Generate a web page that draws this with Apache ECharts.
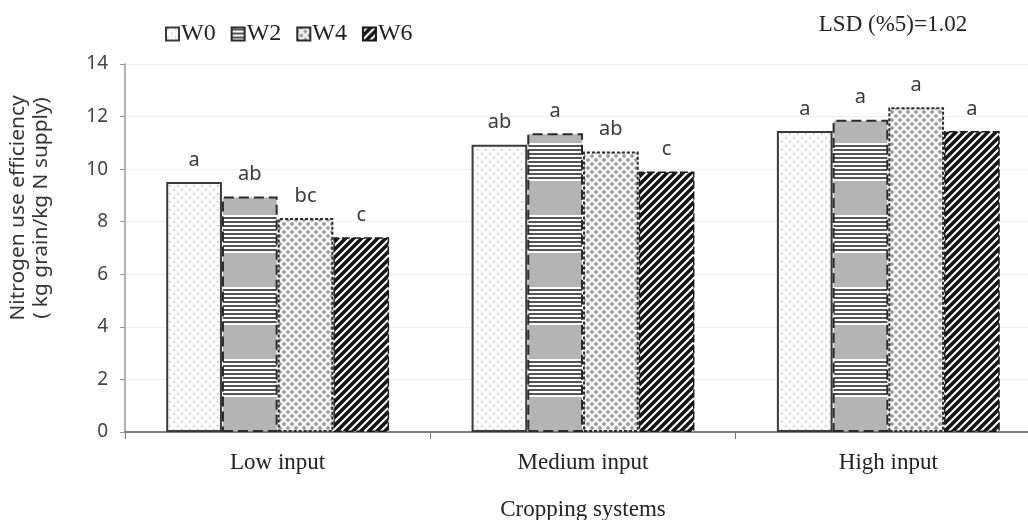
<!DOCTYPE html>
<html>
<head>
<meta charset="utf-8">
<script src="https://cdn.jsdelivr.net/npm/echarts@6/dist/echarts.min.js"></script>
<style>html,body{margin:0;padding:0;background:#fff}#c{width:1028px;height:520px}</style>
</head>
<body>
<div id="c"></div>
<script>
const categories = ['Low input', 'Medium input', 'High input'];
const seriesNames = ['W0', 'W2', 'W4', 'W6'];
const W0 = [9.51, 10.93, 11.45];
const W2 = [8.96, 11.37, 11.88];
const W4 = [8.14, 10.67, 12.35];
const W6 = [7.41, 9.91, 11.45];
const L0 = ['a', 'ab', 'a'];
const L2 = ['ab', 'a', 'a'];
const L4 = ['bc', 'ab', 'a'];
const L6 = ['c', 'c', 'a'];
const yTicks = [0, 2, 4, 6, 8, 10, 12, 14];
const lsdText = 'LSD (%5)=1.02';

function mk(w, h, draw) {
  const c = document.createElement('canvas');
  c.width = w; c.height = h;
  draw(c.getContext('2d'));
  return c;
}
const pDots = mk(8, 8, g => {
  g.fillStyle = '#fcfcfc'; g.fillRect(0, 0, 8, 8);
  g.fillStyle = '#c0c0c0';
  g.fillRect(1, 1, 1.5, 1.5); g.fillRect(5, 5, 1.5, 1.5);
});
const pStripes = mk(6, 72, g => {
  g.fillStyle = '#ffffff'; g.fillRect(0, 0, 6, 72);
  g.fillStyle = '#555';
  for (let y = 1; y < 36; y += 4) g.fillRect(0, y, 6, 2);
  g.fillStyle = '#b4b4b4'; g.fillRect(0, 37, 6, 34);
});
const pCross = mk(8, 8, g => {
  g.fillStyle = '#9a9a9a'; g.fillRect(0, 0, 8, 8);
  g.strokeStyle = '#f6f6f6'; g.lineWidth = 2.3;
  g.beginPath();
  g.moveTo(0, 8); g.lineTo(8, 0);
  g.moveTo(-4, 4); g.lineTo(4, -4);
  g.moveTo(4, 12); g.lineTo(12, 4);
  g.moveTo(0, 0); g.lineTo(8, 8);
  g.moveTo(-4, 4); g.lineTo(4, 12);
  g.moveTo(4, -4); g.lineTo(12, 4);
  g.stroke();
});
const pDiag = mk(8, 8, g => {
  g.fillStyle = '#ffffff'; g.fillRect(0, 0, 8, 8);
  g.strokeStyle = '#151515'; g.lineWidth = 3.6;
  g.beginPath();
  g.moveTo(0, 8); g.lineTo(8, 0);
  g.moveTo(-4, 4); g.lineTo(4, -4);
  g.moveTo(4, 12); g.lineTo(12, 4);
  g.stroke();
});

const styles = [
  { color: { image: pDots, repeat: 'repeat' }, borderColor: '#3a3a3a', borderWidth: 2, borderType: 'solid' },
  { color: { image: pStripes, repeat: 'repeat' }, borderColor: '#2a2a2a', borderWidth: 2, borderType: [10, 5] },
  { color: { image: pCross, repeat: 'repeat' }, borderColor: '#2a2a2a', borderWidth: 2, borderType: [3, 2] },
  { color: { image: pDiag, repeat: 'repeat' }, borderColor: '#1a1a1a', borderWidth: 1.5, borderType: [8, 3] }
];
const values = [W0, W2, W4, W6];
const letters = [L0, L2, L4, L6];

const serif = 'Liberation Serif';
const sans = 'Noto Sans';

const series = seriesNames.map((n, i) => ({
  name: n,
  type: 'bar',
  barGap: '0%',
  barCategoryGap: '27%',
  itemStyle: styles[i],
  data: values[i].map((v, j) => ({ value: v, label: { formatter: letters[i][j] } })),
  label: {
    show: true, position: 'top', distance: 12,
    fontFamily: sans, fontSize: 20, color: '#3a3a3a'
  }
}));

const chart = echarts.init(document.getElementById('c'), null, { renderer: 'canvas' });
chart.setOption({
  animation: false,
  backgroundColor: '#fff',
  grid: { left: 125, right: -13, top: 64, bottom: 88, containLabel: false, outerBoundsMode: 'none' },
  legend: {
    data: seriesNames,
    left: 160, top: 17,
    itemWidth: 13, itemHeight: 13, itemGap: 15,
    icon: 'rect',
    textStyle: { fontFamily: serif, fontSize: 24, color: '#222', padding: [0, 0, 0, -3] }
  },
  xAxis: {
    type: 'category',
    data: categories,
    axisLine: { lineStyle: { color: '#555', width: 1.5 } },
    axisTick: { show: true, length: 7, lineStyle: { color: '#777' } },
    axisLabel: { fontFamily: serif, fontSize: 23, color: '#222', margin: 19 },
    name: 'Cropping systems',
    nameLocation: 'middle',
    nameGap: 66,
    nameTextStyle: { fontFamily: serif, fontSize: 23, color: '#222' }
  },
  yAxis: {
    type: 'value',
    min: 0, max: 14, interval: 2,
    axisLine: { show: true, lineStyle: { color: '#999', width: 1.5 } },
    axisTick: { show: true, length: 5, lineStyle: { color: '#999' } },
    splitLine: { show: true, lineStyle: { color: '#f0f0f0', width: 1 } },
    axisLabel: { fontFamily: sans, fontSize: 19, color: '#444', margin: 17,
      formatter: v => yTicks.includes(v) ? String(v) : '' }
  },
  graphic: [
    {
      type: 'text', x: 30, y: 208, rotation: Math.PI / 2,
      style: {
        text: 'Nitrogen use efficiency\n( kg grain/kg N supply)',
        fontFamily: sans, fontSize: 19, fill: '#333',
        align: 'center', verticalAlign: 'middle', lineHeight: 23
      },
      scaleX: 1.1
    },
    {
      type: 'text', x: 893, y: 25,
      style: { text: lsdText, fontFamily: serif, fontSize: 23, fill: '#222', align: 'center', verticalAlign: 'middle' }
    }
  ],
  series: series
});
</script>
</body>
</html>
